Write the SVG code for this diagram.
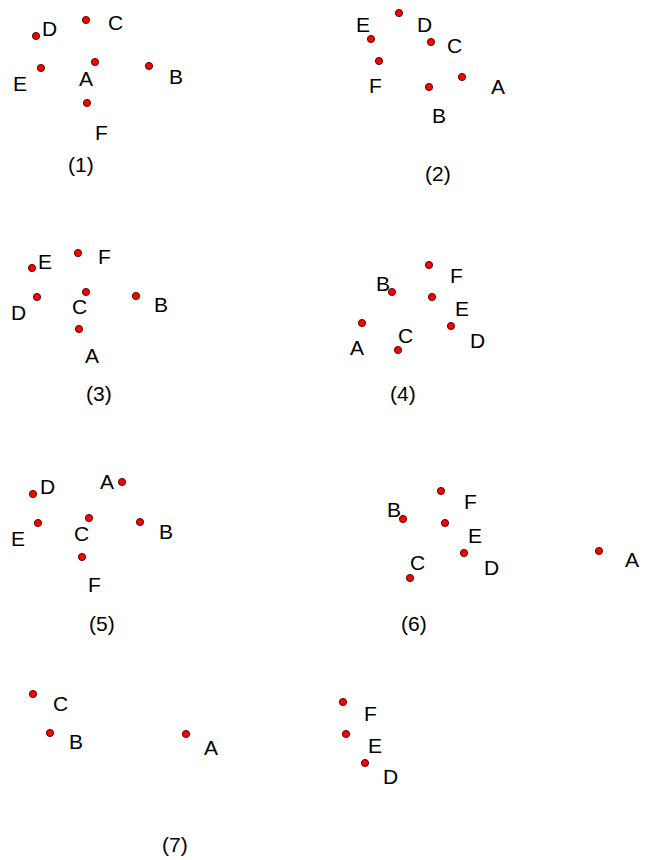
<svg xmlns="http://www.w3.org/2000/svg" width="648" height="860" viewBox="0 0 648 860">
<style>
.pt{fill:#ff0000;stroke:#400000;stroke-width:0.9}
text{font-family:"Liberation Sans",Arial,sans-serif;font-size:21px;fill:#000}
</style>
<rect width="648" height="860" fill="#fff"/>
<g id="panel1">
<g id="p1-A"><circle class="pt" cx="95" cy="62" r="3.6"/><text x="79" y="86">A</text></g>
<g id="p1-B"><circle class="pt" cx="149" cy="66" r="3.6"/><text x="169" y="84">B</text></g>
<g id="p1-C"><circle class="pt" cx="86" cy="20" r="3.6"/><text x="108" y="30">C</text></g>
<g id="p1-D"><circle class="pt" cx="36" cy="36" r="3.6"/><text x="42" y="36">D</text></g>
<g id="p1-E"><circle class="pt" cx="41" cy="68" r="3.6"/><text x="13" y="91">E</text></g>
<g id="p1-F"><circle class="pt" cx="87" cy="103" r="3.6"/><text x="95" y="140">F</text></g>
<text id="cap1" x="68" y="172">(1)</text>
</g>
<g id="panel2">
<g id="p2-A"><circle class="pt" cx="462" cy="77" r="3.6"/><text x="491" y="94">A</text></g>
<g id="p2-B"><circle class="pt" cx="429" cy="87" r="3.6"/><text x="432" y="123">B</text></g>
<g id="p2-C"><circle class="pt" cx="431" cy="42" r="3.6"/><text x="447" y="53">C</text></g>
<g id="p2-D"><circle class="pt" cx="399" cy="13" r="3.6"/><text x="417" y="32">D</text></g>
<g id="p2-E"><circle class="pt" cx="371" cy="39" r="3.6"/><text x="356" y="32">E</text></g>
<g id="p2-F"><circle class="pt" cx="379" cy="61" r="3.6"/><text x="369" y="93">F</text></g>
<text id="cap2" x="425" y="181">(2)</text>
</g>
<g id="panel3">
<g id="p3-A"><circle class="pt" cx="79" cy="329" r="3.6"/><text x="85" y="363">A</text></g>
<g id="p3-B"><circle class="pt" cx="136" cy="296" r="3.6"/><text x="154" y="312">B</text></g>
<g id="p3-C"><circle class="pt" cx="86" cy="292" r="3.6"/><text x="72" y="314">C</text></g>
<g id="p3-D"><circle class="pt" cx="37" cy="297" r="3.6"/><text x="11" y="320">D</text></g>
<g id="p3-E"><circle class="pt" cx="32" cy="268" r="3.6"/><text x="38" y="269">E</text></g>
<g id="p3-F"><circle class="pt" cx="78" cy="253" r="3.6"/><text x="98" y="264">F</text></g>
<text id="cap3" x="86" y="401">(3)</text>
</g>
<g id="panel4">
<g id="p4-A"><circle class="pt" cx="362" cy="323" r="3.6"/><text x="350" y="355">A</text></g>
<g id="p4-B"><circle class="pt" cx="392" cy="292" r="3.6"/><text x="376" y="291">B</text></g>
<g id="p4-C"><circle class="pt" cx="398" cy="350" r="3.6"/><text x="398" y="343">C</text></g>
<g id="p4-D"><circle class="pt" cx="451" cy="326" r="3.6"/><text x="470" y="348">D</text></g>
<g id="p4-E"><circle class="pt" cx="432" cy="297" r="3.6"/><text x="455" y="316">E</text></g>
<g id="p4-F"><circle class="pt" cx="429" cy="265" r="3.6"/><text x="450" y="283">F</text></g>
<text id="cap4" x="390" y="401">(4)</text>
</g>
<g id="panel5">
<g id="p5-A"><circle class="pt" cx="122" cy="482" r="3.6"/><text x="100" y="489">A</text></g>
<g id="p5-B"><circle class="pt" cx="140" cy="522" r="3.6"/><text x="159" y="539">B</text></g>
<g id="p5-C"><circle class="pt" cx="89" cy="518" r="3.6"/><text x="74" y="541">C</text></g>
<g id="p5-D"><circle class="pt" cx="33" cy="494" r="3.6"/><text x="40" y="494">D</text></g>
<g id="p5-E"><circle class="pt" cx="38" cy="523" r="3.6"/><text x="11" y="546">E</text></g>
<g id="p5-F"><circle class="pt" cx="82" cy="557" r="3.6"/><text x="88" y="592">F</text></g>
<text id="cap5" x="89" y="631">(5)</text>
</g>
<g id="panel6">
<g id="p6-A"><circle class="pt" cx="599" cy="551" r="3.6"/><text x="625" y="567">A</text></g>
<g id="p6-B"><circle class="pt" cx="403" cy="519" r="3.6"/><text x="387" y="517">B</text></g>
<g id="p6-C"><circle class="pt" cx="410" cy="578" r="3.6"/><text x="410" y="570">C</text></g>
<g id="p6-D"><circle class="pt" cx="464" cy="553" r="3.6"/><text x="484" y="575">D</text></g>
<g id="p6-E"><circle class="pt" cx="445" cy="523" r="3.6"/><text x="468" y="543">E</text></g>
<g id="p6-F"><circle class="pt" cx="441" cy="491" r="3.6"/><text x="464" y="509">F</text></g>
<text id="cap6" x="401" y="631">(6)</text>
</g>
<g id="panel7">
<g id="p7-A"><circle class="pt" cx="186" cy="734" r="3.6"/><text x="204" y="755">A</text></g>
<g id="p7-B"><circle class="pt" cx="50" cy="733" r="3.6"/><text x="69" y="749">B</text></g>
<g id="p7-C"><circle class="pt" cx="33" cy="694" r="3.6"/><text x="53" y="711">C</text></g>
<g id="p7-D"><circle class="pt" cx="365" cy="763" r="3.6"/><text x="383" y="784">D</text></g>
<g id="p7-E"><circle class="pt" cx="346" cy="734" r="3.6"/><text x="368" y="753">E</text></g>
<g id="p7-F"><circle class="pt" cx="343" cy="702" r="3.6"/><text x="364" y="721">F</text></g>
<text id="cap7" x="162" y="852">(7)</text>
</g>
</svg>
